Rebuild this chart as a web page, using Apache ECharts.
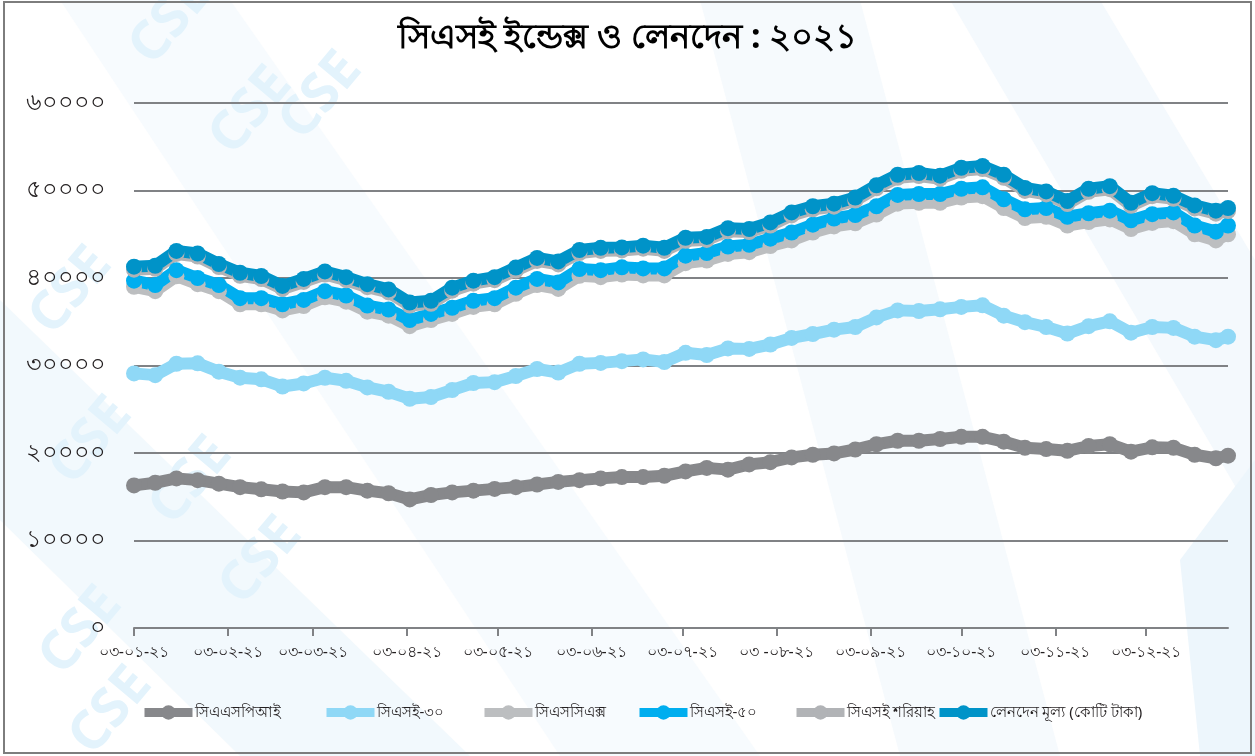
<!DOCTYPE html>
<html>
<head>
<meta charset="utf-8">
<script src="https://cdn.jsdelivr.net/npm/echarts@6/dist/echarts.min.js"></script>
<style>
  html, body { margin: 0; padding: 0; background: #fff; }
  #chart { width: 1255px; height: 756px; }
</style>
</head>
<body>
<div id="chart"></div>
<script>
// weekly readings, 2021
const dates = [
  '2021-01-03', '2021-01-10', '2021-01-17', '2021-01-24', '2021-01-31',
  '2021-02-07', '2021-02-14', '2021-02-21', '2021-02-28',
  '2021-03-07', '2021-03-14', '2021-03-21', '2021-03-28',
  '2021-04-04', '2021-04-11', '2021-04-18', '2021-04-25',
  '2021-05-02', '2021-05-09', '2021-05-16', '2021-05-23', '2021-05-30',
  '2021-06-06', '2021-06-13', '2021-06-20', '2021-06-27',
  '2021-07-04', '2021-07-11', '2021-07-18', '2021-07-25',
  '2021-08-01', '2021-08-08', '2021-08-15', '2021-08-22', '2021-08-29',
  '2021-09-05', '2021-09-12', '2021-09-19', '2021-09-26',
  '2021-10-03', '2021-10-10', '2021-10-17', '2021-10-24', '2021-10-31',
  '2021-11-07', '2021-11-14', '2021-11-21', '2021-11-28',
  '2021-12-05', '2021-12-12', '2021-12-19', '2021-12-26', '2021-12-30'
]

const caspi = [16300, 16600, 17100, 16900, 16500, 16100, 15850, 15600, 15500, 16100,
  16100, 15700, 15400, 14700, 15200, 15500, 15700, 15900, 16100, 16400,
  16700, 16900, 17100, 17250, 17250, 17400, 17900, 18300, 18100, 18700,
  18950, 19500, 19800, 19950, 20400, 21000, 21400, 21400, 21600, 21850,
  21850, 21300, 20600, 20450, 20250, 20800, 21000, 20150, 20650, 20600,
  19800, 19400, 19700]

const cse30 = [29100, 28900, 30200, 30250, 29300, 28610, 28420, 27600, 27950, 28600,
  28250, 27500, 27000, 26200, 26400, 27200, 28000, 28100, 28800, 29600,
  29200, 30200, 30300, 30500, 30700, 30400, 31450, 31200, 31950, 31900,
  32400, 33150, 33600, 34100, 34400, 35500, 36300, 36230, 36420, 36700,
  36880, 35700, 34950, 34400, 33650, 34500, 35050, 33750, 34400, 34300,
  33300, 32900, 33300]

const cscx = [39000, 38500, 40200, 39300, 38500, 37000, 37000, 36300, 36800, 37800,
  37300, 36150, 35700, 34500, 35200, 35900, 36700, 37000, 38200, 39200,
  38750, 40250, 40100, 40400, 40300, 40300, 41700, 42000, 42750, 42950,
  43650, 44300, 45200, 45900, 46250, 47250, 48500, 48600, 48600, 49200,
  49350, 48000, 46850, 47000, 46000, 46400, 46700, 45600, 46300, 46500,
  45000, 44300, 45000]

const cse50 = [39700, 39200, 40900, 40000, 39200, 37700, 37700, 37000, 37500, 38500,
  38000, 36850, 36400, 35200, 35900, 36600, 37400, 37700, 38900, 39900,
  39500, 41030, 40900, 41220, 41100, 41100, 42550, 42850, 43600, 43800,
  44500, 45200, 46100, 46800, 47200, 48200, 49500, 49600, 49600, 50200,
  50360, 49000, 47850, 48000, 47000, 47400, 47700, 46600, 47300, 47500,
  46000, 45300, 46000]

const shariah = [40950, 41050, 42750, 42450, 41250, 40250, 39880, 38750, 39550, 40400,
  39750, 38950, 38350, 36850, 37050, 38550, 39350, 39750, 40850, 41950,
  41550, 42850, 43100, 43150, 43350, 43100, 44250, 44350, 45350, 45250,
  46000, 47150, 47850, 48150, 48850, 50250, 51450, 51650, 51350, 52250,
  52450, 51450, 49950, 49550, 48450, 49850, 50150, 48250, 49350, 49050,
  47950, 47350, 47650]

const turnover = [41300, 41400, 43100, 42800, 41600, 40600, 40230, 39100, 39900, 40750,
  40100, 39300, 38700, 37200, 37400, 38900, 39700, 40100, 41200, 42300,
  41900, 43200, 43450, 43500, 43700, 43460, 44600, 44700, 45700, 45600,
  46350, 47500, 48200, 48500, 49200, 50600, 51800, 52000, 51700, 52600,
  52800, 51800, 50300, 49900, 48800, 50200, 50500, 48600, 49700, 49400,
  48300, 47700, 48000]

const seriesNames = ['সিএএসপিআই', 'সিএসই-৩০', 'সিএসসিএক্স', 'সিএসই-৫০', 'সিএসই শরিয়াহ', 'লেনদেন মূল্য (কোটি টাকা)']
const seriesColors = ['#87888b', '#8fd8f6', '#bcbec0', '#00aeef', '#b1b3b6', '#0093c8']

const tickDates = ['2021-01-03', '2021-02-03', '2021-03-03', '2021-04-03', '2021-05-03', '2021-06-03',
  '2021-07-03', '2021-08-03', '2021-09-03', '2021-10-03', '2021-11-03', '2021-12-03']
const tickLabels = ['০৩-০১-২১', '০৩-০২-২১', '০৩-০৩-২১', '০৩-০৪-২১', '০৩-০৫-২১', '০৩-০৬-২১',
  '০৩-০৭-২১', '০৩ -০৮-২১', '০৩-০৯-২১', '০৩-১০-২১', '০৩-১১-২১', '০৩-১২-২১']
const yLabels = ['০', '১০০০০', '২০০০০', '৩০০০০', '৪০০০০', '৫০০০০', '৬০০০০']

const legendLeft = [140, 322, 480, 635, 792, 935]

const font = "'Noto Sans', sans-serif"
const toTime = d => Date.UTC(+d.slice(0, 4), +d.slice(5, 7) - 1, +d.slice(8, 10))
const tickTimes = tickDates.map(toTime)

let myChart = echarts.init(document.getElementById('chart'))

function makeSeries (name, values, color) {
  return {
    name: name,
    type: 'line',
    data: dates.map((d, i) => [toTime(d), values[i]]),
    symbol: 'circle',
    symbolSize: 16,
    showAllSymbol: true,
    lineStyle: { color: color, width: 12 },
    itemStyle: { color: color },
    emphasis: { disabled: true }
  }
}

// watermark decoration
let graphics = [
  { type: 'polygon', silent: true, z: -10, shape: { points: [[0, 300], [0, 520], [240, 756], [470, 756]] }, style: { fill: '#f2f9fd' } },
  { type: 'polygon', silent: true, z: -10, shape: { points: [[60, 0], [230, 0], [760, 756], [560, 756]] }, style: { fill: '#f7fbfe' } },
  { type: 'polygon', silent: true, z: -10, shape: { points: [[700, 0], [860, 0], [1060, 756], [900, 756]] }, style: { fill: '#f6fafd' } },
  { type: 'polygon', silent: true, z: -10, shape: { points: [[950, 0], [1100, 0], [1255, 260], [1255, 520]] }, style: { fill: '#f4f9fd' } },
  { type: 'polygon', silent: true, z: -10, shape: { points: [[1180, 560], [1255, 460], [1255, 756], [1200, 756]] }, style: { fill: '#edf6fc' } }
]
const cseMarks = [[120, 40], [200, 130], [270, 115], [20, 310], [40, 460], [140, 500], [210, 580], [30, 650], [60, 730]]
cseMarks.forEach(p => {
  graphics.push({
    type: 'text', silent: true, z: -5, x: p[0], y: p[1], rotation: Math.PI * 50 / 180,
    style: { text: 'CSE', fill: '#e3f3fc', font: 'bold 54px ' + font }
  })
})
graphics.push({
  type: 'rect', silent: true, z: 10,
  shape: { x: 4, y: 2, width: 1247, height: 751 },
  style: { fill: 'none', stroke: '#7d7d7d', lineWidth: 2 }
})

myChart.setOption({
  backgroundColor: '#ffffff',
  animation: false,
  textStyle: { fontFamily: font },
  title: {
    text: 'সিএসই ইন্ডেক্স ও লেনদেন : ২০২১',
    left: 'center',
    top: 16,
    textStyle: { color: '#000', fontSize: 34, fontWeight: 'bold', fontFamily: font }
  },
  graphic: graphics,
  grid: {
    left: 134,
    right: 27,
    top: 103,
    bottom: 128
  },
  legend: seriesNames.map((n, i) => ({
    data: [n],
    left: legendLeft[i],
    top: 705,
    padding: 0,
    itemWidth: 48,
    itemHeight: 18,
    itemGap: 0,
    lineStyle: { width: 9 },
    textStyle: { color: '#231f20', fontSize: 15, fontFamily: font, padding: [0, 0, 0, -3] }
  })),
  xAxis: {
    type: 'value',
    min: toTime('2021-01-03'),
    max: toTime('2021-12-30'),
    splitLine: { show: false },
    axisLine: { lineStyle: { color: '#808285', width: 2 } },
    axisTick: {
      show: true,
      length: 8,
      customValues: tickTimes,
      lineStyle: { color: '#808285', width: 2 }
    },
    axisLabel: {
      customValues: tickTimes,
      margin: 16,
      color: '#231f20',
      fontSize: 16,
      formatter: function (v) {
        let idx = tickTimes.indexOf(v)
        return idx >= 0 ? tickLabels[idx] : ''
      }
    }
  },
  yAxis: {
    type: 'value',
    min: 0,
    max: 60000,
    interval: 10000,
    axisLine: { show: false },
    axisTick: { show: false },
    splitLine: { lineStyle: { color: '#808285', width: 2 } },
    axisLabel: {
      margin: 28,
      color: '#231f20',
      fontSize: 24,
      formatter: function (v) {
        return yLabels[Math.round(v / 10000)]
      }
    }
  },
  series: [
    makeSeries(seriesNames[0], caspi, seriesColors[0]),
    makeSeries(seriesNames[1], cse30, seriesColors[1]),
    makeSeries(seriesNames[2], cscx, seriesColors[2]),
    makeSeries(seriesNames[3], cse50, seriesColors[3]),
    makeSeries(seriesNames[4], shariah, seriesColors[4]),
    makeSeries(seriesNames[5], turnover, seriesColors[5])
  ]
})
</script>
</body>
</html>
